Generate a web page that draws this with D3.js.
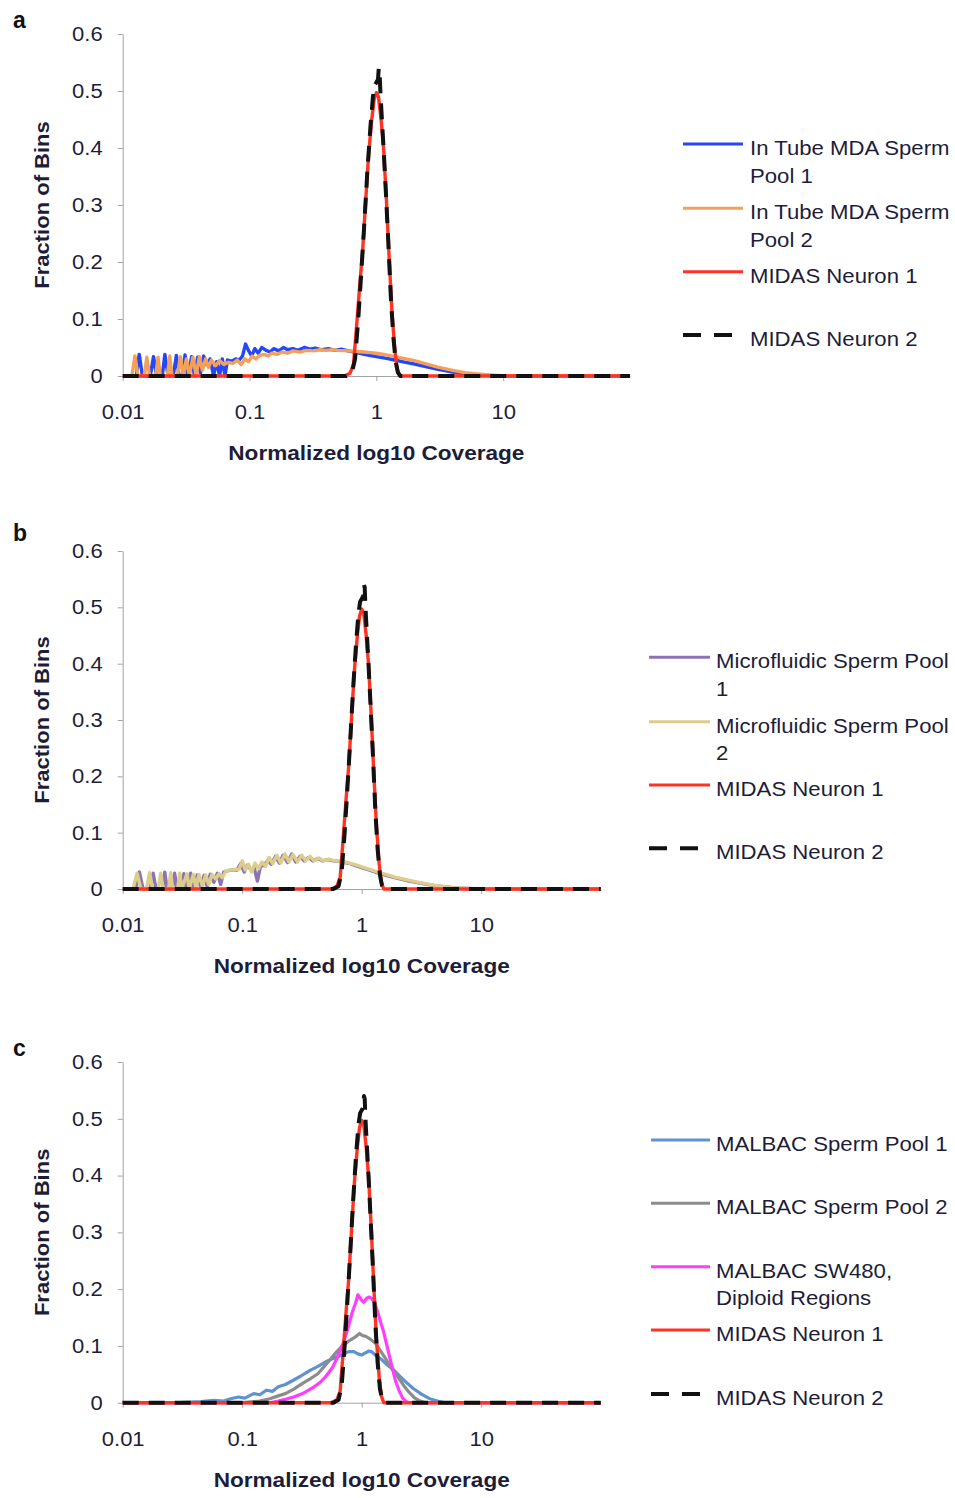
<!DOCTYPE html>
<html>
<head>
<meta charset="utf-8">
<script src="https://cdn.jsdelivr.net/npm/d3@7"></script>
<style>
  html, body { margin: 0; padding: 0; background: #fff; }
  svg text { font-family: "Liberation Sans", Arial, Helvetica, sans-serif; fill: #1d1d3a; }
</style>
</head>
<body>
<svg id="chart" width="955" height="1498"></svg>
<script>
// ---------------- DATA ----------------
const xTickValues = [0.01, 0.1, 1, 10];
const xTickLabels = ["0.01", "0.1", "1", "10"];
const yTickValues = [0, 0.1, 0.2, 0.3, 0.4, 0.5, 0.6];
const yTickLabels = ["0", "0.1", "0.2", "0.3", "0.4", "0.5", "0.6"];
const panelLetters = ["a", "b", "c"];
const xAxisTitle = "Normalized log10 Coverage";
const yAxisTitle = "Fraction of Bins";

// [normalized coverage, fraction of bins]
const midasNeuron1 = [[0.01,0],[0.56,0],[0.62,0.005],[0.66,0.02],[0.70,0.09],[0.74,0.16],[0.78,0.22],[0.82,0.3],[0.87,0.39],[0.92,0.45],[0.96,0.485],[1.0,0.497],[1.04,0.49],[1.09,0.45],[1.14,0.4],[1.2,0.31],[1.26,0.21],[1.33,0.11],[1.4,0.045],[1.46,0.012],[1.53,0],[100,0]];
const midasNeuron2 = [[0.01,0],[0.58,0],[0.64,0.005],[0.68,0.03],[0.72,0.1],[0.76,0.18],[0.8,0.26],[0.85,0.36],[0.9,0.44],[0.94,0.49],[0.97,0.51],[1.0,0.515],[1.03,0.52],[1.045,0.54],[1.06,0.535],[1.075,0.5],[1.1,0.46],[1.14,0.4],[1.19,0.32],[1.24,0.24],[1.3,0.14],[1.36,0.07],[1.42,0.025],[1.48,0.006],[1.55,0],[100,0]];

const inTubePool1 = [[0.0118,0],[0.0128,0],[0.0135,0.038],[0.0143,0],[0.0165,0],[0.0175,0.034],[0.0185,0],[0.0205,0],[0.0215,0.038],[0.0228,0],[0.025,0],[0.0265,0.036],[0.0278,0],[0.0295,0],[0.031,0.037],[0.0325,0],[0.035,0.034],[0.0368,0],[0.039,0.033],[0.041,0.005],[0.0435,0.035],[0.046,0.02],[0.049,0.03],[0.052,0],[0.055,0.025],[0.058,0],[0.061,0.03],[0.064,0],[0.067,0.028],[0.072,0.026],[0.078,0.03],[0.083,0.028],[0.088,0.035],[0.093,0.056],[0.098,0.045],[0.104,0.035],[0.11,0.048],[0.117,0.04],[0.125,0.05],[0.135,0.045],[0.145,0.042],[0.155,0.048],[0.17,0.044],[0.185,0.05],[0.2,0.046],[0.22,0.048],[0.24,0.045],[0.27,0.05],[0.3,0.047],[0.33,0.049],[0.37,0.046],[0.42,0.048],[0.47,0.045],[0.53,0.047],[0.6,0.044],[0.7,0.041],[0.8,0.038],[0.9,0.036],[1.0,0.034],[1.2,0.031],[1.4,0.028],[1.7,0.024],[2.0,0.021],[2.5,0.016],[3,0.012],[4,0.007],[5,0.004],[6,0.002],[8,0.001],[10,0],[100,0]];
const inTubePool2 = [[0.0118,0],[0.0125,0.035],[0.0132,0],[0.0148,0],[0.0155,0.033],[0.0163,0],[0.0182,0],[0.019,0.033],[0.0198,0],[0.0225,0],[0.0235,0.035],[0.0245,0],[0.027,0],[0.0285,0.034],[0.03,0],[0.0318,0.03],[0.0335,0],[0.0358,0.033],[0.038,0],[0.0402,0.034],[0.0425,0.01],[0.045,0.03],[0.0475,0.015],[0.05,0.028],[0.054,0.018],[0.058,0.027],[0.063,0.02],[0.068,0.024],[0.074,0.022],[0.08,0.028],[0.086,0.02],[0.092,0.03],[0.098,0.025],[0.105,0.035],[0.112,0.03],[0.12,0.036],[0.13,0.038],[0.14,0.035],[0.15,0.04],[0.165,0.038],[0.18,0.042],[0.2,0.04],[0.22,0.044],[0.25,0.042],[0.28,0.045],[0.32,0.044],[0.36,0.046],[0.4,0.045],[0.45,0.046],[0.5,0.045],[0.6,0.044],[0.7,0.043],[0.8,0.042],[0.9,0.041],[1.0,0.04],[1.2,0.037],[1.4,0.034],[1.7,0.03],[2.0,0.027],[2.5,0.021],[3,0.016],[4,0.01],[5,0.006],[6,0.004],[8,0.0015],[10,0.0005],[12,0],[100,0]];

const microPool1 = [[0.0118,0],[0.0128,0],[0.0138,0.03],[0.0148,0],[0.017,0],[0.018,0.028],[0.019,0],[0.0215,0],[0.0225,0.03],[0.0235,0],[0.026,0],[0.0272,0.028],[0.0285,0],[0.031,0],[0.0325,0.027],[0.034,0],[0.037,0.028],[0.039,0],[0.042,0.025],[0.045,0.003],[0.048,0.024],[0.051,0.004],[0.054,0.026],[0.058,0.012],[0.062,0.028],[0.066,0.008],[0.07,0.03],[0.075,0.032],[0.082,0.034],[0.09,0.033],[0.097,0.045],[0.104,0.03],[0.11,0.042],[0.118,0.035],[0.126,0.038],[0.134,0.014],[0.142,0.04],[0.152,0.042],[0.163,0.05],[0.175,0.044],[0.19,0.058],[0.205,0.046],[0.22,0.06],[0.24,0.047],[0.26,0.062],[0.28,0.048],[0.305,0.058],[0.33,0.05],[0.36,0.056],[0.39,0.05],[0.43,0.054],[0.47,0.05],[0.52,0.052],[0.58,0.05],[0.65,0.049],[0.72,0.047],[0.8,0.045],[0.9,0.041],[1.0,0.038],[1.15,0.034],[1.3,0.03],[1.5,0.026],[1.75,0.022],[2.0,0.019],[2.5,0.014],[3.0,0.011],[4.0,0.006],[5,0.004],[6,0.002],[8,0.001],[10,0],[100,0]];
const microPool2 = [[0.0118,0],[0.0122,0],[0.0132,0.028],[0.0142,0],[0.0158,0],[0.0168,0.029],[0.0178,0],[0.0198,0],[0.0208,0.028],[0.0218,0],[0.0242,0],[0.0252,0.029],[0.0262,0],[0.0288,0],[0.03,0.028],[0.0312,0],[0.0345,0.027],[0.036,0],[0.039,0.026],[0.041,0.002],[0.0435,0.026],[0.0465,0.005],[0.0495,0.025],[0.0525,0.008],[0.056,0.026],[0.06,0.018],[0.064,0.027],[0.068,0.02],[0.073,0.032],[0.08,0.034],[0.088,0.034],[0.094,0.035],[0.1,0.05],[0.106,0.034],[0.113,0.044],[0.12,0.03],[0.128,0.046],[0.137,0.036],[0.146,0.048],[0.157,0.04],[0.168,0.056],[0.18,0.045],[0.195,0.06],[0.21,0.046],[0.228,0.062],[0.246,0.048],[0.266,0.061],[0.29,0.048],[0.315,0.06],[0.34,0.05],[0.37,0.058],[0.4,0.05],[0.44,0.055],[0.48,0.05],[0.53,0.053],[0.6,0.05],[0.68,0.049],[0.76,0.047],[0.85,0.044],[0.95,0.041],[1.05,0.038],[1.2,0.034],[1.4,0.029],[1.6,0.026],[1.9,0.021],[2.3,0.017],[2.8,0.013],[3.5,0.009],[4.5,0.005],[6,0.002],[8,0.0005],[10,0],[100,0]];

const malbacPool1 = [[0.01,0],[0.03,0],[0.045,0.002],[0.058,0.004],[0.07,0.003],[0.08,0.007],[0.093,0.01],[0.105,0.008],[0.125,0.016],[0.14,0.014],[0.16,0.022],[0.18,0.02],[0.2,0.028],[0.23,0.032],[0.27,0.04],[0.31,0.047],[0.37,0.057],[0.43,0.064],[0.5,0.072],[0.58,0.078],[0.68,0.084],[0.78,0.09],[0.86,0.09],[0.93,0.086],[1.0,0.084],[1.08,0.088],[1.15,0.091],[1.21,0.09],[1.3,0.084],[1.47,0.076],[1.65,0.066],[1.85,0.058],[2.1,0.046],[2.3,0.038],[2.7,0.025],[3.16,0.015],[3.7,0.007],[4.3,0.003],[5,0],[100,0]];
const malbacPool2 = [[0.01,0],[0.1,0],[0.14,0.003],[0.17,0.007],[0.2,0.012],[0.23,0.016],[0.27,0.024],[0.32,0.034],[0.37,0.042],[0.43,0.051],[0.54,0.075],[0.62,0.09],[0.68,0.099],[0.77,0.108],[0.86,0.114],[0.96,0.122],[1.02,0.118],[1.08,0.117],[1.18,0.112],[1.31,0.104],[1.45,0.09],[1.58,0.078],[1.78,0.06],[2.0,0.046],[2.25,0.03],[2.5,0.018],[2.75,0.009],[3.0,0.004],[3.4,0],[100,0]];
const malbacSW480 = [[0.01,0],[0.17,0],[0.2,0.003],[0.23,0.006],[0.27,0.01],[0.32,0.016],[0.36,0.022],[0.4,0.028],[0.45,0.036],[0.5,0.046],[0.57,0.062],[0.63,0.081],[0.7,0.105],[0.76,0.128],[0.83,0.158],[0.89,0.176],[0.93,0.19],[0.96,0.186],[1.0,0.18],[1.04,0.177],[1.1,0.184],[1.16,0.186],[1.21,0.184],[1.28,0.176],[1.36,0.16],[1.45,0.14],[1.53,0.124],[1.65,0.095],[1.78,0.066],[1.92,0.038],[2.07,0.02],[2.2,0.008],[2.35,0.002],[2.5,0],[100,0]];

// Series definitions per panel (names, colours, line styles)
const panelASeries = [
  { name: ["In Tube MDA Sperm", "Pool 1"], data: inTubePool1, color: "#2447f7", width: 3.4 },
  { name: ["In Tube MDA Sperm", "Pool 2"], data: inTubePool2, color: "#f4a05a", width: 3.4 },
  { name: ["MIDAS Neuron 1"], data: midasNeuron1, color: "#ff3322", width: 3.4 },
  { name: ["MIDAS Neuron 2"], data: midasNeuron2, color: "#111111", width: 4, dash: "16,10" }
];
const panelBSeries = [
  { name: ["Microfluidic Sperm Pool", "1"], data: microPool1, color: "#8c74b4", width: 3.4 },
  { name: ["Microfluidic Sperm Pool", "2"], data: microPool2, color: "#dccd8b", width: 3.4 },
  { name: ["MIDAS Neuron 1"], data: midasNeuron1, color: "#ff3322", width: 3.4 },
  { name: ["MIDAS Neuron 2"], data: midasNeuron2, color: "#111111", width: 4, dash: "16,10" }
];
const panelCSeries = [
  { name: ["MALBAC Sperm Pool 1"], data: malbacPool1, color: "#5f92cf", width: 3.2 },
  { name: ["MALBAC Sperm Pool 2"], data: malbacPool2, color: "#8c8c8c", width: 3.2 },
  { name: ["MALBAC SW480,", "Diploid Regions"], data: malbacSW480, color: "#ff3cff", width: 3.2 },
  { name: ["MIDAS Neuron 1"], data: midasNeuron1, color: "#ff3322", width: 3.4 },
  { name: ["MIDAS Neuron 2"], data: midasNeuron2, color: "#111111", width: 4, dash: "16,10" }
];

// ---------------- LAYOUT ----------------
const panels = [
  { letter: panelLetters[0], letterY: 28, series: panelASeries,
    x0: 122.7, x1: 630, yTop: 34, yBot: 376,
    legLineX: [683, 743], legTextX: 750, legY: [144, 208.3, 271.7, 335] },
  { letter: panelLetters[1], letterY: 541, series: panelBSeries,
    x0: 122.7, x1: 600.7, yTop: 551, yBot: 889,
    legLineX: [649, 710], legTextX: 716, legY: [657.3, 721.7, 785, 848.3] },
  { letter: panelLetters[2], letterY: 1056, series: panelCSeries,
    x0: 122.7, x1: 600.7, yTop: 1062, yBot: 1402.7,
    legLineX: [651, 710], legTextX: 716, legY: [1140, 1203.3, 1266.7, 1330, 1394] }
];

const svg = d3.select("#chart");
const axisColor = "#a3a3a3";

// widen text horizontally a little, like the reference rendering
function stretch(sel, k) {
  sel.each(function () {
    const L = this.getComputedTextLength();
    this.setAttribute("textLength", (L * k).toFixed(1));
    this.setAttribute("lengthAdjust", "spacingAndGlyphs");
  });
}

panels.forEach(p => {
  const x = d3.scaleLog().domain([0.01, 100]).range([p.x0, p.x1]);
  const y = d3.scaleLinear().domain([0, 0.6]).range([p.yBot, p.yTop]);
  const g = svg.append("g");

  // panel letter
  g.append("text").attr("x", 13).attr("y", p.letterY)
    .style("font-size", "23px").style("font-weight", "bold").style("fill", "#111")
    .text(p.letter);

  // y axis
  const yAxis = d3.axisLeft(y).tickValues(yTickValues)
    .tickFormat((d, i) => yTickLabels[i]).tickSize(5).tickSizeOuter(0).tickPadding(15);
  const gy = g.append("g").attr("transform", `translate(${p.x0},0)`).call(yAxis);
  gy.selectAll("path, line").attr("stroke", axisColor);
  gy.selectAll("text").style("font-size", "20px").style("fill", "#1d1d3a");
  stretch(gy.selectAll("text"), 1.1);

  // x axis
  const xAxis = d3.axisBottom(x).tickValues(xTickValues)
    .tickFormat((d, i) => xTickLabels[i]).tickSize(5).tickSizeOuter(0).tickPadding(24);
  const gx = g.append("g").attr("transform", `translate(0,${p.yBot})`).call(xAxis);
  gx.selectAll("path, line").attr("stroke", axisColor);
  gx.selectAll("text").style("font-size", "20px").style("fill", "#1d1d3a");
  stretch(gx.selectAll("text"), 1.1);

  // axis titles
  const xt = g.append("text").attr("x", (p.x0 + p.x1) / 2).attr("y", p.yBot + 84)
    .attr("text-anchor", "middle").style("font-size", "21px").style("font-weight", "bold")
    .text(xAxisTitle);
  stretch(xt, 1.075);
  const yt = g.append("text")
    .attr("transform", `translate(49,${(p.yTop + p.yBot) / 2}) rotate(-90)`)
    .attr("text-anchor", "middle").style("font-size", "20px").style("font-weight", "bold")
    .text(yAxisTitle);
  stretch(yt, 1.1);

  // lines
  const line = d3.line().x(d => x(d[0])).y(d => y(d[1]));
  p.series.forEach(s => {
    g.append("path").datum(s.data)
      .attr("d", line).attr("fill", "none")
      .attr("stroke", s.color).attr("stroke-width", s.width)
      .attr("stroke-linejoin", "round")
      .attr("stroke-dasharray", s.dash || null);
  });

  // legend
  p.series.forEach((s, i) => {
    const ly = p.legY[i];
    g.append("line").attr("x1", p.legLineX[0])
      .attr("x2", s.dash ? p.legLineX[0] + 49 : p.legLineX[1])
      .attr("y1", ly).attr("y2", ly)
      .attr("stroke", s.color).attr("stroke-width", s.dash ? 4 : 3)
      .attr("stroke-dasharray", s.dash ? "18,13" : null);
    s.name.forEach((ln, j) => {
      const t = g.append("text").attr("x", p.legTextX).attr("y", ly + 11 + j * 27.5)
        .style("font-size", "21px").text(ln);
      stretch(t, 1.055);
    });
  });
});
</script>
</body>
</html>
